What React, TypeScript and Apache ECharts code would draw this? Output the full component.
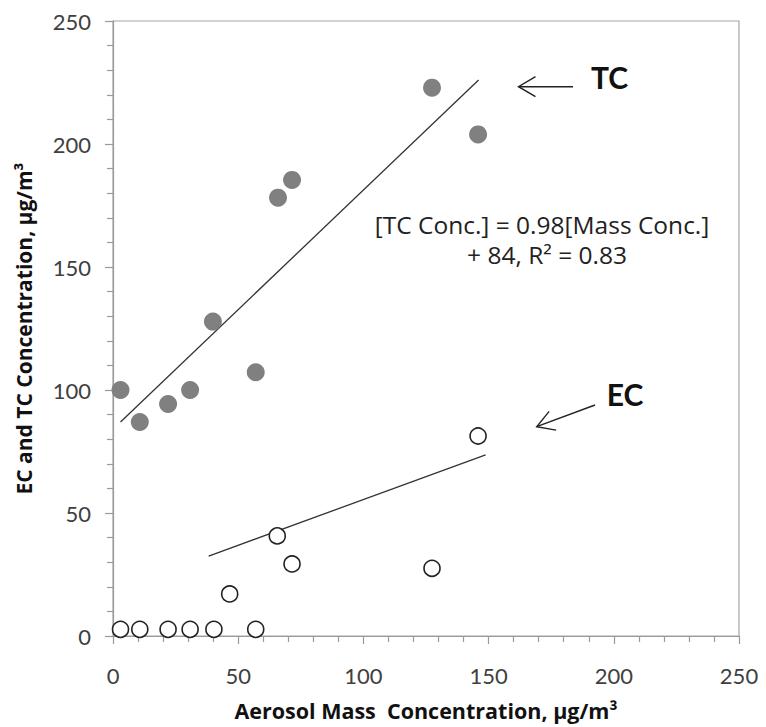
import React, { useEffect, useRef } from "react";
import * as echarts from "echarts";

const xTC = [3, 10.7, 22, 30.8, 39.9, 57, 65.9, 71.5, 127.4, 145.8];
const yTC = [100, 87, 94.3, 100, 127.8, 107.2, 178.2, 185.4, 222.9, 203.9];
const xEC = [3, 10.7, 22, 30.8, 40.3, 46.6, 57, 65.6, 71.5, 127.4, 145.8];
const yEC = [2.7, 2.7, 2.7, 2.7, 2.7, 17.1, 2.7, 40.7, 29.3, 27.5, 81.3];
const tcTrendX = [3, 146];
const tcTrendY = [87, 226];
const ecTrendX = [38.2, 148.8];
const ecTrendY = [32.5, 73.6];

const xTitle = "Aerosol Mass  Concentration, µg/m³";
const yTitle = "EC and TC Concentration, µg/m³";
const eqLine1 = "[TC Conc.] = 0.98[Mass Conc.]";
const eqLine2 = "+ 84, R² = 0.83";

const FONT = "Lato, 'Open Sans', sans-serif";
const WIDEFONT = "'Open Sans', Lato, sans-serif";

function arrow(x1: number, y1: number, x2: number, y2: number, head = 17, spread = 10) {
  const dx = x2 - x1;
  const dy = y2 - y1;
  const len = Math.sqrt(dx * dx + dy * dy);
  const bx = -dx / len;
  const by = -dy / len;
  const px = -by;
  const py = bx;
  const cx = x2 + bx * head;
  const cy = y2 + by * head;
  const style = { stroke: "#222", lineWidth: 1.4, fill: "none" };
  return [
    { type: "line", shape: { x1, y1, x2, y2 }, style },
    {
      type: "polyline",
      shape: {
        points: [
          [cx + px * spread, cy + py * spread],
          [x2, y2],
          [cx - px * spread, cy - py * spread],
        ],
      },
      style,
    },
  ];
}

export default function App() {
  const ref = useRef<HTMLDivElement>(null);
  useEffect(() => {
    if (!ref.current) return;
    const chart = echarts.init(ref.current, undefined, { renderer: "svg" });
    const axisCommon = {
      type: "value",
      min: 0,
      max: 250,
      interval: 50,
      axisLine: { show: true, lineStyle: { color: "#9a9a9a", width: 1.2 } },
      axisTick: { show: true, inside: false, length: 8, lineStyle: { color: "#9a9a9a", width: 1.2 } },
      minorTick: { show: true, splitNumber: 5, length: 6, lineStyle: { color: "#9a9a9a", width: 1.2 } },
      splitLine: { show: false },
      minorSplitLine: { show: false },
      axisLabel: { color: "#404040", fontSize: 22, fontFamily: FONT },
      nameLocation: "middle",
      nameTextStyle: { color: "#111", fontSize: 21, fontWeight: "bold", fontFamily: WIDEFONT },
    };
    chart.setOption({
      animation: false,
      backgroundColor: "#fff",
      grid: {
        left: 113,
        top: 21,
        right: 27,
        bottom: 91,
        show: true,
        borderColor: "#a6a6a6",
        borderWidth: 1.2,
        backgroundColor: "transparent",
      },
      xAxis: {
        ...axisCommon,
        axisLabel: { ...axisCommon.axisLabel, margin: 28 },
        name: xTitle,
        nameGap: 63,
        nameTextStyle: { ...axisCommon.nameTextStyle, fontSize: 21.5 },
      },
      yAxis: {
        ...axisCommon,
        axisLabel: { ...axisCommon.axisLabel, margin: 22 },
        name: yTitle,
        nameRotate: 90,
        nameGap: 79,
      },
      series: [
        {
          type: "line",
          data: tcTrendX.map((x, i) => [x, tcTrendY[i]]),
          showSymbol: false,
          lineStyle: { color: "#333", width: 1.3 },
          silent: true,
          z: 1,
        },
        {
          type: "line",
          data: ecTrendX.map((x, i) => [x, ecTrendY[i]]),
          showSymbol: false,
          lineStyle: { color: "#333", width: 1.3 },
          silent: true,
          z: 1,
        },
        {
          name: "TC",
          type: "scatter",
          data: xTC.map((x, i) => [x, yTC[i]]),
          symbol: "circle",
          symbolSize: 18,
          itemStyle: { color: "#808080", opacity: 1 },
          z: 3,
        },
        {
          name: "EC",
          type: "scatter",
          data: xEC.map((x, i) => [x, yEC[i]]),
          symbol: "circle",
          symbolSize: 16,
          itemStyle: { color: "#fff", borderColor: "#222", borderWidth: 1.6, opacity: 1 },
          z: 3,
        },
      ],
      graphic: [
        ...arrow(573, 86.7, 518.5, 86.7),
        ...arrow(595, 405, 536.7, 426.7),
        {
          type: "text",
          x: 609.5,
          y: 77,
          style: {
            text: "TC",
            font: `bold 30px ${FONT}`,
            fill: "#111",
            align: "center",
            verticalAlign: "middle",
          },
        },
        {
          type: "text",
          x: 625,
          y: 394,
          style: {
            text: "EC",
            font: `bold 30px ${FONT}`,
            fill: "#111",
            align: "center",
            verticalAlign: "middle",
          },
        },
        {
          type: "text",
          x: 542,
          y: 224,
          style: {
            text: eqLine1,
            font: `24.5px ${WIDEFONT}`,
            fill: "#222",
            align: "center",
            verticalAlign: "middle",
          },
        },
        {
          type: "text",
          x: 547,
          y: 254,
          style: {
            text: eqLine2,
            font: `24.5px ${WIDEFONT}`,
            fill: "#222",
            align: "center",
            verticalAlign: "middle",
          },
        },
      ],
    });
    return () => chart.dispose();
  }, []);
  return (
    <div
      ref={ref}
      style={{ position: "absolute", left: 0, top: 0, width: 766, height: 727 }}
    />
  );
}
